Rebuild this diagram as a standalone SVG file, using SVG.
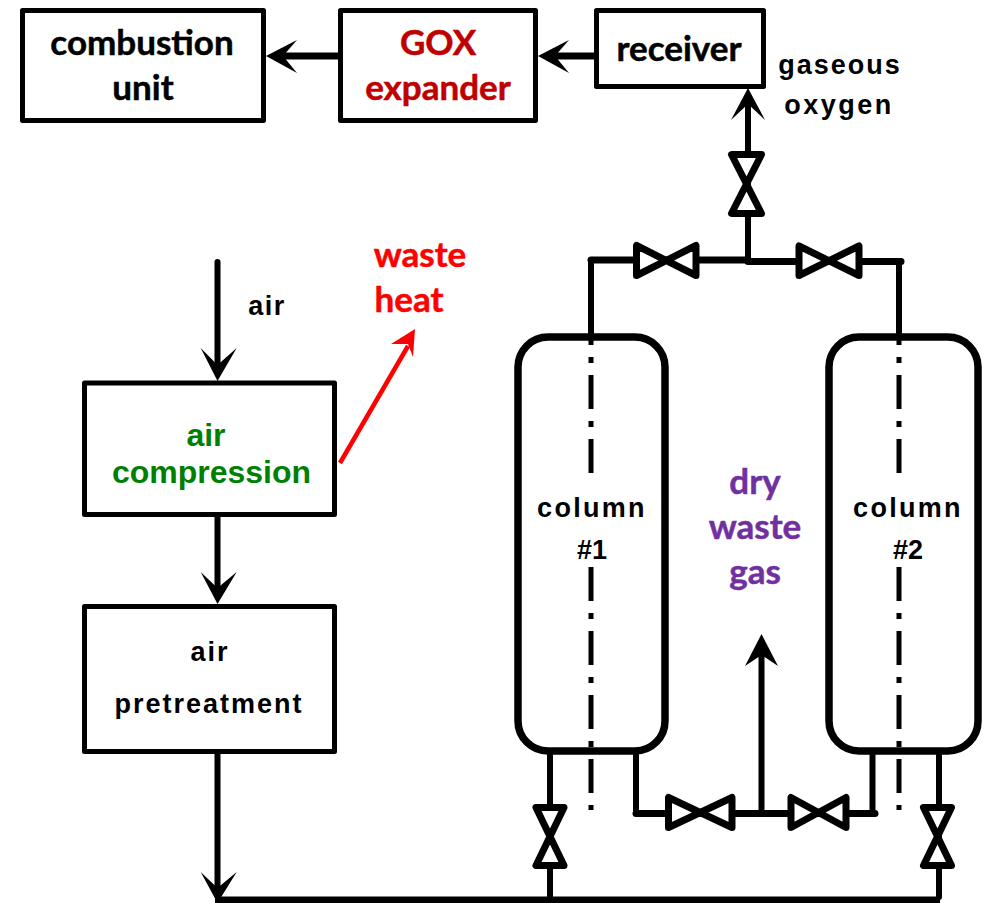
<svg xmlns="http://www.w3.org/2000/svg" width="985" height="903" viewBox="0 0 985 903">
<style>
.box{fill:#fff;stroke:#000;stroke-width:5;stroke-linejoin:round}
.col{fill:#fff;stroke:#000;stroke-width:7.500}
.pipe{fill:none;stroke:#000;stroke-width:6;stroke-linecap:round}
.thick{fill:none;stroke:#000;stroke-width:7;stroke-linecap:round}
.valve{fill:#fff;stroke:#000;stroke-width:7;stroke-linejoin:round}
.axis{fill:none;stroke:#000;stroke-width:5;stroke-dasharray:34 12 6 12}
.head{fill:#000}
.c{font-family:"Lato","Liberation Sans",sans-serif;font-weight:700;font-size:35px;text-anchor:middle;stroke-width:.5px}
.a{font-family:"Liberation Sans",Arial,sans-serif;font-weight:700;font-size:27px;text-anchor:middle;fill:#000}
.h{font-family:"Liberation Sans",Arial,sans-serif;font-weight:700;font-size:32px;text-anchor:middle;fill:#008000}
.k{fill:#000;stroke:#000}.r{fill:#c00000;stroke:#c00000}.e{fill:#f00;stroke:#f00}.p{fill:#7030a0;stroke:#7030a0}
</style>
<g id="connectors">
<path class="thick" d="M338 56H285"/>
<polygon class="head" points="266,56 297,40 283,56 297,73"/>
<path class="thick" d="M594 56H557"/>
<polygon class="head" points="538,56 569,40 555,56 569,73"/>
<path class="pipe" d="M748 105V260"/>
<polygon class="head" points="748,88 765,120 748,104 731,120"/>
<path class="thick" d="M591 260H748"/>
<path class="thick" d="M748 261.500H901"/>
<path class="pipe" d="M591 260V336"/>
<path class="pipe" d="M899 262V336"/>
<path class="pipe" d="M217.500 262V368"/>
<polygon class="head" points="217.500,381 200.700,348 217.500,365 236.700,348"/>
<path class="pipe" d="M217.500 516V590"/>
<polygon class="head" points="217.500,604 200.700,572 217.500,588 236.700,572"/>
<path class="pipe" d="M217.500 752V890"/>
<polygon class="head" points="217.500,903 200.700,872 217.500,888 236.700,872"/>
<path stroke="#f00" stroke-width="4.500" fill="none" d="M340 463L408 346"/>
<polygon fill="#f00" points="415,329 413,357 408,344 391,344"/>
<path class="pipe" d="M550 755V897"/>
<path class="pipe" d="M939 755V897"/>
<path class="pipe" d="M636 755V813"/>
<path class="pipe" d="M872.500 755V813"/>
<path class="thick" d="M636 813.500H875"/>
<path class="pipe" d="M761.500 813V650"/>
<polygon class="head" points="761.500,634 778,666 761.500,655 745,666"/>
<path d="M215 900H940" stroke="#000" stroke-width="7" fill="none"/>
</g>
<g id="combustion-unit"><rect class="box" x="22.500" y="10.500" width="241" height="110"/><text class="c k" x="142" y="55">combustion</text><text class="c k" x="143" y="100">unit</text></g>
<g id="gox-expander"><rect class="box" x="340.500" y="10.500" width="195" height="110"/><text class="c r" x="438" y="55">GOX</text><text class="c r" x="438" y="100">expander</text></g>
<g id="receiver"><rect class="box" x="596.500" y="10.500" width="167" height="76"/><text class="c k" x="679" y="61">receiver</text></g>
<g id="air-compression"><rect class="box" x="84.500" y="383" width="250" height="131.500"/><text class="h"><tspan x="206" y="446">air</tspan><tspan x="211.500" y="483">compression</tspan></text></g>
<g id="air-pretreatment"><rect class="box" x="84.500" y="606.500" width="250" height="145"/><text class="a" x="210" y="661" letter-spacing="2">air</text><text class="a" x="209" y="713" letter-spacing="2">pretreatment</text></g>
<g id="column-1"><rect class="col" x="518" y="337" width="147" height="414" rx="30"/><path class="axis" d="M591 311V473M591 567V810"/><text class="a" x="592" y="517" letter-spacing="2.300">column</text><text class="a" x="592" y="559">#1</text></g>
<g id="column-2"><rect class="col" x="829" y="337" width="149" height="414" rx="30"/><path class="axis" d="M899 311V473M899 567V810"/><text class="a" x="908" y="517" letter-spacing="2.300">column</text><text class="a" x="908" y="559">#2</text></g>
<g id="valve-top"><polygon class="valve" points="731.500,154.500 761.500,154.500 731.500,213.500 761.500,213.500"/></g>
<g id="valve-left"><polygon class="valve" points="636.500,245.500 636.500,275.500 696,245.500 696,275.500"/></g>
<g id="valve-right"><polygon class="valve" points="799,246 799,275.500 859,246 859,275.500"/></g>
<g id="valve-bottom-left"><polygon class="valve" points="536,807.500 564,807.500 536,865.500 564,865.500"/></g>
<g id="valve-bottom-right"><polygon class="valve" points="923.500,807.500 951.500,807.500 923.500,865.500 951.500,865.500"/></g>
<g id="valve-bottom-mid-left"><polygon class="valve" points="668.500,797.500 668.500,827.500 732,797.500 732,827.500"/></g>
<g id="valve-bottom-mid-right"><polygon class="valve" points="791,797.500 791,827.500 846,797.500 846,827.500"/></g>
<g id="labels">
<text class="a" x="840" y="74" letter-spacing="2">gaseous</text>
<text class="a" x="839" y="114" letter-spacing="2.500">oxygen</text>
<text class="a" x="267" y="315" letter-spacing="1.500">air</text>
<text class="c e" x="420" y="267">waste</text>
<text class="c e" x="409" y="312">heat</text>
<text class="c p" x="755" y="494">dry</text>
<text class="c p" x="755" y="539">waste</text>
<text class="c p" x="755" y="584">gas</text>
</g>
</svg>
